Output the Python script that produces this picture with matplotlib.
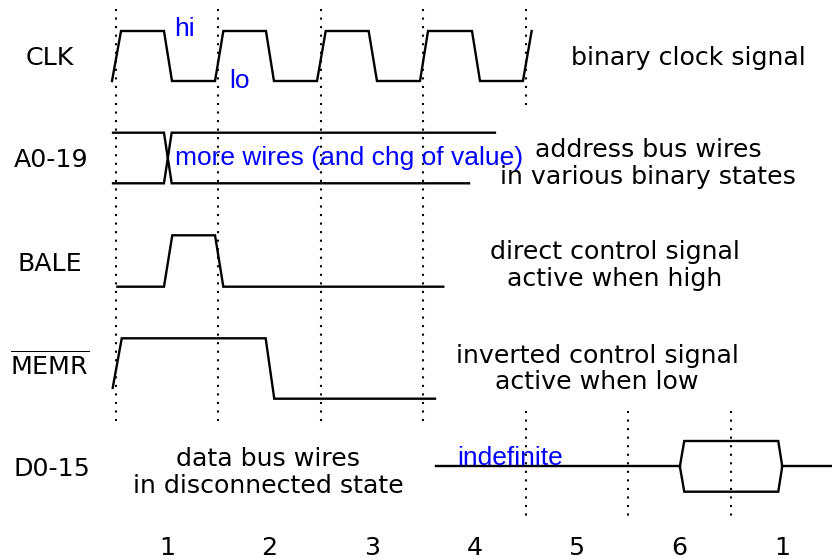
import matplotlib
matplotlib.use("Agg")
import matplotlib.pyplot as plt

# ---- waveform data: time in clock periods (0 = first marker), level 0=low, 1=high
clk_t = [-0.036, 0.052, 0.471, 0.549, 0.969, 1.050, 1.466, 1.544, 1.964, 2.049,
         2.468, 2.549, 2.969, 3.047, 3.476, 3.554, 3.973, 4.058]
clk_v = [0, 1, 1, 0, 0, 1, 1, 0, 0, 1, 1, 0, 0, 1, 1, 0, 0, 1]

addr_a_t = [-0.026, 0.471, 0.546, 3.447]
addr_a_v = [1, 1, 0, 0]
addr_b_t = [-0.026, 0.471, 0.546, 3.700]
addr_b_v = [0, 0, 1, 1]

bale_t = [0.016, 0.471, 0.552, 0.969, 1.050, 3.196]
bale_v = [0, 0, 1, 1, 0, 0]

memr_t = [-0.029, 0.059, 1.463, 1.547, 3.115]
memr_v = [0.18, 1, 1, 0, 0]

data_float_t = [3.125, 5.504]
data_float_v = [0.5, 0.5]
data_valid_t = [5.504, 5.547, 6.464, 6.503, 6.464, 5.547, 5.504]
data_valid_v = [0.5, 1, 1, 0.5, 0, 0, 0.5]
data_tail_t = [6.503, 7.0]
data_tail_v = [0.5, 0.5]

signal_names = ["CLK", "A0-19", "BALE", r"$\overline{\mathregular{MEMR}}$", "D0-15"]
cycle_labels = ["1", "2", "3", "4", "5", "6", "1"]
descriptions = [["binary clock signal"],
                ["address bus wires", "in various binary states"],
                ["direct control signal", "active when high"],
                ["inverted control signal", "active when low"],
                ["data bus wires", "in disconnected state"]]

# ---- layout (pixel rows, y grows downward)
T0, PER = 115.7, 102.5
def tx(px):
    return (px - T0) / PER

row_low = [81, 183.3, 286.7, 398.7, 491.7]
row_high = [31, 132.7, 235.3, 338.3, 441]

def ys(row, vals):
    return [row_low[row] + v * (row_high[row] - row_low[row]) for v in vals]

fig = plt.figure(figsize=(8.32, 5.59), dpi=100)
ax = fig.add_axes([0, 0, 1, 1])
ax.set_xlim(tx(0), tx(832))
ax.set_ylim(559, 0)
ax.axis("off")

LW = 1.7
kw = dict(color="black", lw=LW, solid_joinstyle="miter")
ax.plot(clk_t, ys(0, clk_v), **kw)
ax.plot(addr_a_t, ys(1, addr_a_v), **kw)
ax.plot(addr_b_t, ys(1, addr_b_v), **kw)
ax.plot(bale_t, ys(2, bale_v), **kw)
ax.plot(memr_t, ys(3, memr_v), **kw)
ax.plot(data_float_t, ys(4, data_float_v), **kw)
ax.plot(data_valid_t, ys(4, data_valid_v), **kw)
ax.plot(data_tail_t, ys(4, data_tail_v), **kw)

# dotted cycle markers
dot = dict(color="black", lw=1.5, linestyle=(0, (1, 3.1)))
for t in [0, 1, 2, 3]:
    ax.plot([t, t], [9, 423], **dot)
ax.plot([4, 4], [9, 108], **dot)
for t in [4, 5, 6]:
    ax.plot([t, t], [411, 518], **dot)

FS = 18.2
tk = dict(fontsize=FS, family="DejaVu Sans", color="black", ha="center", va="baseline")
name_x = [49.5, 51, 50, 49.7, 52]
name_base = [65, 167, 271, 375, 476]
for nm, x, yb in zip(signal_names, name_x, name_base):
    ax.text(tx(x), yb, nm, **tk)

desc_x = [688, 648, 614.5, 597, 268]
desc_base = [[65], [157, 184], [259, 286], [363, 389], [466, 493]]
for lines, x, bases in zip(descriptions, desc_x, desc_base):
    for s, yb in zip(lines, bases):
        ax.text(tx(x), yb, s, **tk)

for i, lab in enumerate(cycle_labels):
    ax.text(i + 0.5, 555, lab, **tk)

bk = dict(fontsize=19, family="Liberation Sans", color="blue", ha="left", va="baseline")
ax.text(tx(174), 36, "hi", **bk)
ax.text(tx(229), 88, "lo", **bk)
ax.text(tx(175), 165, "more wires (and chg of value)", **bk)
ax.text(tx(457), 465, "indefinite", **bk)

fig.savefig("out.png", dpi=100)
